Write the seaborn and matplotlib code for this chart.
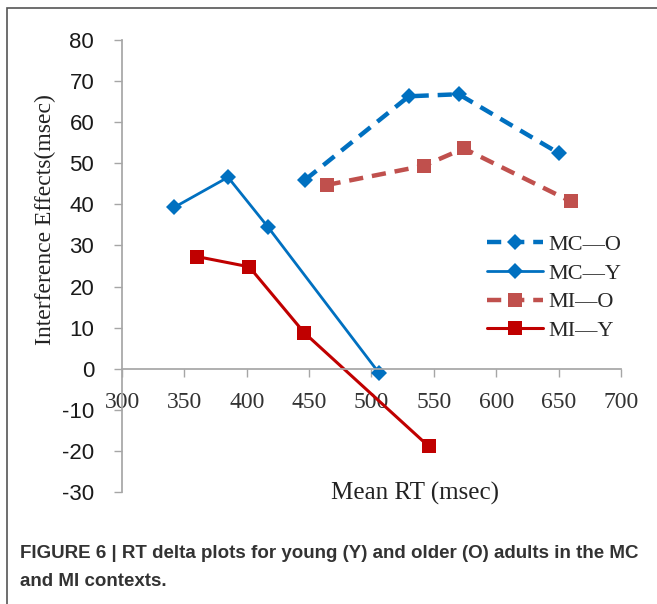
import matplotlib
matplotlib.use("Agg")
import matplotlib.pyplot as plt
from matplotlib.patches import Rectangle
from matplotlib.lines import Line2D
import seaborn as sns
import pandas as pd

# data
mc_o_x = [447, 530, 570, 650]
mc_o_y = [46.0, 66.3, 66.8, 52.5]
mc_y_x = [342, 385, 417, 506]
mc_y_y = [39.3, 46.6, 34.5, -1.0]
mi_o_x = [464, 542, 574, 660]
mi_o_y = [44.7, 49.4, 53.6, 40.7]
mi_y_x = [360, 402, 446, 546]
mi_y_y = [27.3, 24.8, 8.8, -18.9]

labels = ["MC\u2014O", "MC\u2014Y", "MI\u2014O", "MI\u2014Y"]
colors = ["#0070C0", "#0070C0", "#C0504D", "#C00000"]
xticks = list(range(300, 701, 50))
yticks = list(range(-30, 81, 10))

sns.set_theme(style="white")
plt.rcParams["font.family"] = ["Liberation Sans", "DejaVu Sans"]

fig = plt.figure(figsize=(6.57, 6.04), dpi=100)
ax = fig.add_axes([0.1857, 0.1854, 0.7593, 0.7484])

series = [
    (mc_o_x, mc_o_y, "D", 8, (3.2, 2.0), 3.2),
    (mc_y_x, mc_y_y, "D", 8, None, 2.0),
    (mi_o_x, mi_o_y, "s", 10, (3.2, 2.0), 3.2),
    (mi_y_x, mi_y_y, "s", 10, None, 2.2),
]
handles = []
for (xs, ys, mk, ms, dash, lw), lab, col in zip(series, labels, colors):
    df = pd.DataFrame({"rt": xs, "eff": ys})
    kw = dict(dashes=dash) if dash else {}
    sns.lineplot(data=df, x="rt", y="eff", ax=ax, color=col, marker=mk,
                 markersize=ms, markeredgewidth=0, linewidth=lw, sort=False, **kw)
    h = Line2D([], [], color=col, marker=mk, markersize=ms, markeredgewidth=0,
               linewidth=lw, linestyle=(0, dash) if dash else "-")
    handles.append(h)

for s in ["top", "right"]:
    ax.spines[s].set_visible(False)
ax.spines["left"].set_color("#A6A6A6")
ax.spines["bottom"].set_color("#A6A6A6")
ax.spines["bottom"].set_position(("data", 0))

ax.set_xlim(300, 700)
ax.set_ylim(-30, 80)
ax.set_xticks(xticks)
ax.set_yticks(yticks)
ax.set_yticklabels([str(v) for v in yticks])
ax.set_xticklabels([str(v) for v in xticks])
ax.tick_params(axis="both", direction="out", length=6, width=1, color="#A6A6A6",
               bottom=True, left=True)
ax.tick_params(axis="x", pad=11, labelsize=17, labelcolor="#333333",
               labelfontfamily="Liberation Serif")
ax.tick_params(axis="y", pad=14, labelsize=16, labelcolor="#1a1a1a")

ax.set_xlabel("")
ax.set_ylabel("")
fig.text(415 / 657, 1 - 493 / 604, "Mean RT (msec)", family="Liberation Serif",
         fontsize=18, ha="center", va="center", color="#222222")
fig.text(45 / 657, 1 - 220 / 604, "Interference Effects(msec)", family="Liberation Serif",
         fontsize=17, rotation=90, ha="center", va="center", color="#222222")

leg = fig.legend(handles, labels, loc="upper left", bbox_to_anchor=(487 / 657, 0.612),
                 frameon=False, prop={"family": "Liberation Serif", "size": 16},
                 handlelength=2.5, handletextpad=0.27, labelspacing=0.37,
                 borderpad=0, borderaxespad=0)

# figure frame and caption
fig.patches.append(Rectangle((7 / 657, -0.1), 1.2, 1 - 8 / 604 + 0.1,
                             transform=fig.transFigure, fill=False,
                             edgecolor="#555555", linewidth=1.2))
fig.text(20 / 657, 1 - 554 / 604, "FIGURE 6 | RT delta plots for young (Y) and older (O) adults in the MC",
         fontsize=13.5, weight="bold", color="#333333", va="center")
fig.text(20 / 657, 1 - 581 / 604, "and MI contexts.", fontsize=13.5, weight="bold",
         color="#333333", va="center")

fig.savefig("out.png", dpi=100)
